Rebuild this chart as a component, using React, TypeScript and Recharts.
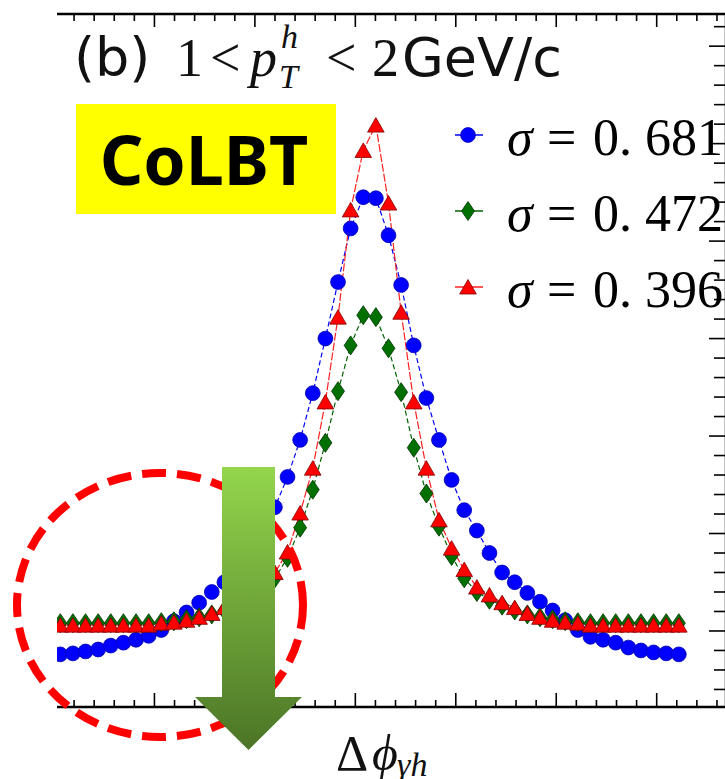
import React from "react";
import { LineChart, Line, XAxis, YAxis, Legend } from "recharts";

// bin width of the Δφ histogram (50 bins over 2π)
const BIN = (2 * Math.PI) / 50;

const sigma681 = [
  0.052, 0.053, 0.055, 0.057, 0.061, 0.064, 0.067, 0.071, 0.077, 0.086,
  0.095, 0.105, 0.116, 0.126, 0.137, 0.155, 0.177, 0.203, 0.234, 0.272,
  0.32, 0.376, 0.434, 0.489, 0.521, 0.52, 0.482, 0.431, 0.369, 0.315,
  0.272, 0.231, 0.2, 0.179, 0.156, 0.136, 0.126, 0.115, 0.106, 0.097,
  0.087, 0.077, 0.07, 0.067, 0.064, 0.059, 0.056, 0.054, 0.053, 0.052,
];
const sigma472 = [
  0.084, 0.084, 0.084, 0.084, 0.084, 0.084, 0.084, 0.084, 0.085, 0.086,
  0.088, 0.09, 0.093, 0.097, 0.102, 0.108, 0.116, 0.13, 0.151, 0.182,
  0.221, 0.269, 0.322, 0.369, 0.4, 0.398, 0.366, 0.321, 0.264, 0.217,
  0.183, 0.153, 0.13, 0.116, 0.108, 0.102, 0.097, 0.093, 0.09, 0.088,
  0.086, 0.085, 0.084, 0.084, 0.084, 0.084, 0.084, 0.084, 0.084, 0.084,
];
const sigma396 = [
  0.082, 0.082, 0.082, 0.082, 0.082, 0.082, 0.082, 0.082, 0.084, 0.085,
  0.087, 0.09, 0.094, 0.1, 0.105, 0.113, 0.122, 0.136, 0.157, 0.197,
  0.243, 0.311, 0.398, 0.508, 0.569, 0.595, 0.515, 0.403, 0.311, 0.243,
  0.19, 0.161, 0.139, 0.121, 0.113, 0.105, 0.1, 0.094, 0.09, 0.087,
  0.085, 0.084, 0.082, 0.082, 0.082, 0.082, 0.082, 0.082, 0.082, 0.082,
];

const dphi = sigma681.map((_, i) => +((i + 0.5) * BIN).toFixed(4));

const data = dphi.map((x, i) => ({
  x,
  s681: sigma681[i],
  s472: sigma472[i],
  s396: sigma396[i],
}));

const xTicks = Array.from({ length: 33 }, (_, k) => +(0.2 * (k + 1)).toFixed(1));
const yTicks = Array.from({ length: 35 }, (_, k) => +(0.016 + 0.02 * k).toFixed(3));

const SERIF = "'Liberation Serif', 'DejaVu Serif', serif";
const SANS = "'DejaVu Sans', sans-serif";

const isMajorX = (v: number) => Math.abs(v - Math.round(v)) < 1e-6;
const isMajorY = (v: number) => {
  const k = (v - 0.076) / 0.1;
  return Math.abs(k - Math.round(k)) < 1e-6;
};

const TopTick = (p: any) => (
  <line x1={p.x} x2={p.x} y1={p.y} y2={p.y + (isMajorX(p.payload.value) ? 13 : 7)} stroke="#000" strokeWidth={1.6} />
);
const BottomTick = (p: any) => (
  <line x1={p.x} x2={p.x} y1={p.y} y2={p.y - (isMajorX(p.payload.value) ? 14 : 7)} stroke="#000" strokeWidth={1.6} />
);
const RightTick = (p: any) => (
  <line x1={p.x} x2={p.x - (isMajorY(p.payload.value) ? 17 : 12)} y1={p.y} y2={p.y} stroke="#000" strokeWidth={1.6} />
);

function Marker({ shape, cx, cy }: { shape: string; cx: number; cy: number }) {
  if (shape === "circle")
    return <circle cx={cx} cy={cy} r={7.4} fill="#0000ff" stroke="#0000b0" strokeWidth={0.8} />;
  if (shape === "diamond")
    return (
      <polygon
        points={`${cx},${cy - 9.5} ${cx + 6.5},${cy} ${cx},${cy + 9.5} ${cx - 6.5},${cy}`}
        fill="#007000"
        stroke="#003300"
        strokeWidth={0.8}
      />
    );
  return (
    <polygon
      points={`${cx},${cy - 7.5} ${cx + 8.3},${cy + 7} ${cx - 8.3},${cy + 7}`}
      fill="#ff0000"
      stroke="#800000"
      strokeWidth={0.8}
    />
  );
}

const series = [
  { key: "s681", label: "0. 681", color: "#0000ff", shape: "circle", dash: "5 3" },
  { key: "s472", label: "0. 472", color: "#006400", shape: "diamond", dash: "5 3" },
  { key: "s396", label: "0. 396", color: "#ff2020", shape: "triangle", dash: "8 2" },
];

function LegendBox() {
  return (
    <svg width={280} height={230} style={{ overflow: "visible" }}>
      {series.map((s, i) => {
        const cy = 35 + i * 76;
        return (
          <g key={s.key}>
            <line x1={5} x2={33} y1={cy} y2={cy} stroke={s.color} strokeWidth={1.5} />
            <Marker shape={s.shape} cx={18} cy={cy} />
            <text x={57} y={cy + 20} fontFamily={SERIF} fontSize={52} fill="#000">
              <tspan fontStyle="italic">σ</tspan>
              <tspan x={97}>=</tspan>
              <tspan x={143}>{s.label}</tspan>
            </text>
          </g>
        );
      })}
    </svg>
  );
}

export default function App() {
  return (
    <div style={{ position: "absolute", left: 0, top: 0, width: 725, height: 779, overflow: "hidden", background: "#fff" }}>
      <LineChart
        width={730}
        height={779}
        data={data}
        margin={{ top: 13, right: 3, bottom: 71, left: 57 }}
      >
        <XAxis
          xAxisId="top"
          orientation="top"
          type="number"
          dataKey="x"
          domain={[0.03, 6.69]}
          allowDataOverflow
          ticks={xTicks}
          interval={0}
          height={1}
          tickSize={0}
          tickMargin={0}
          tickLine={false}
          tick={TopTick}
          axisLine={{ stroke: "#000", strokeWidth: 2.5 }}
        />
        <XAxis
          xAxisId="bottom"
          orientation="bottom"
          type="number"
          dataKey="x"
          domain={[0.03, 6.69]}
          allowDataOverflow
          ticks={xTicks}
          interval={0}
          height={1}
          tickSize={0}
          tickMargin={0}
          tickLine={false}
          tick={BottomTick}
          axisLine={{ stroke: "#000", strokeWidth: 2.5 }}
        />
        <YAxis
          yAxisId="right"
          orientation="right"
          type="number"
          domain={[-0.002, 0.709]}
          allowDataOverflow
          ticks={yTicks}
          interval={0}
          width={1}
          tickSize={0}
          tickMargin={0}
          tickLine={false}
          tick={RightTick}
          axisLine={{ stroke: "#000", strokeWidth: 2.5 }}
        />
        <Legend
          layout="vertical"
          align="center"
          verticalAlign="middle"
          content={<LegendBox />}
          wrapperStyle={{ position: "absolute", left: 450, top: 100, width: 280, height: 230 }}
        />
        {series.map((s) => (
          <Line
            key={s.key}
            xAxisId="bottom"
            yAxisId="right"
            type="linear"
            dataKey={s.key}
            name={s.label}
            stroke={s.color}
            strokeWidth={1.2}
            strokeDasharray={s.dash}
            isAnimationActive={false}
            dot={(p: any) => <Marker key={`${s.key}-${p.index}`} shape={s.shape} cx={p.cx} cy={p.cy} />}
            activeDot={false}
          />
        ))}
      </LineChart>

      <svg
        width={725}
        height={779}
        style={{ position: "absolute", left: 0, top: 0, pointerEvents: "none" }}
      >
        <defs>
          <linearGradient id="arrowFill" x1="0" y1="0" x2="0" y2="1">
            <stop offset="0" stopColor="#93d64c" />
            <stop offset="1" stopColor="#4b7426" />
          </linearGradient>
        </defs>

        {/* title */}
        <text y={76} fontSize={54} fill="#111">
          <tspan x={74} fontFamily={SANS}>(b)</tspan>
          <tspan x={176} fontFamily={SERIF}>1</tspan>
          <tspan x={210} fontFamily={SERIF}>&lt;</tspan>
          <tspan x={250} fontFamily={SERIF} fontStyle="italic">p</tspan>
          <tspan x={326} fontFamily={SERIF}>&lt;</tspan>
          <tspan x={372} fontFamily={SERIF}>2</tspan>
          <tspan x={402} fontFamily={SANS}>GeV/c</tspan>
        </text>
        <text x={281} y={48} fontSize={34} fontFamily={SERIF} fontStyle="italic" fill="#111">h</text>
        <text x={279} y={88} fontSize={34} fontFamily={SERIF} fontStyle="italic" fill="#111">T</text>

        {/* CoLBT tag */}
        <rect x={76} y={104} width={260} height={110} fill="#ffff00" />
        <text x={204} y={185} textAnchor="middle" fontFamily="'Noto Sans', sans-serif" fontWeight={700} fontSize={68} fill="#000">
          CoLBT
        </text>

        {/* dashed circle */}
        <ellipse cx={160} cy={605} rx={143} ry={132} fill="none" stroke="#ff0000" strokeWidth={8} strokeDasharray="24 11" />

        {/* arrow */}
        <polygon
          points="222,467 275,467 275,697 302,697 248.5,750 195,697 222,697"
          fill="url(#arrowFill)"
        />

        {/* x label */}
        <text y={770} fontFamily={SERIF} fontSize={50} fill="#111">
          <tspan x={336}>Δ</tspan>
          <tspan x={372} fontStyle="italic">ϕ</tspan>
        </text>
        <text x={397} y={776} fontSize={34} fontFamily={SERIF} fontStyle="italic" fill="#111">γh</text>
      </svg>
    </div>
  );
}
